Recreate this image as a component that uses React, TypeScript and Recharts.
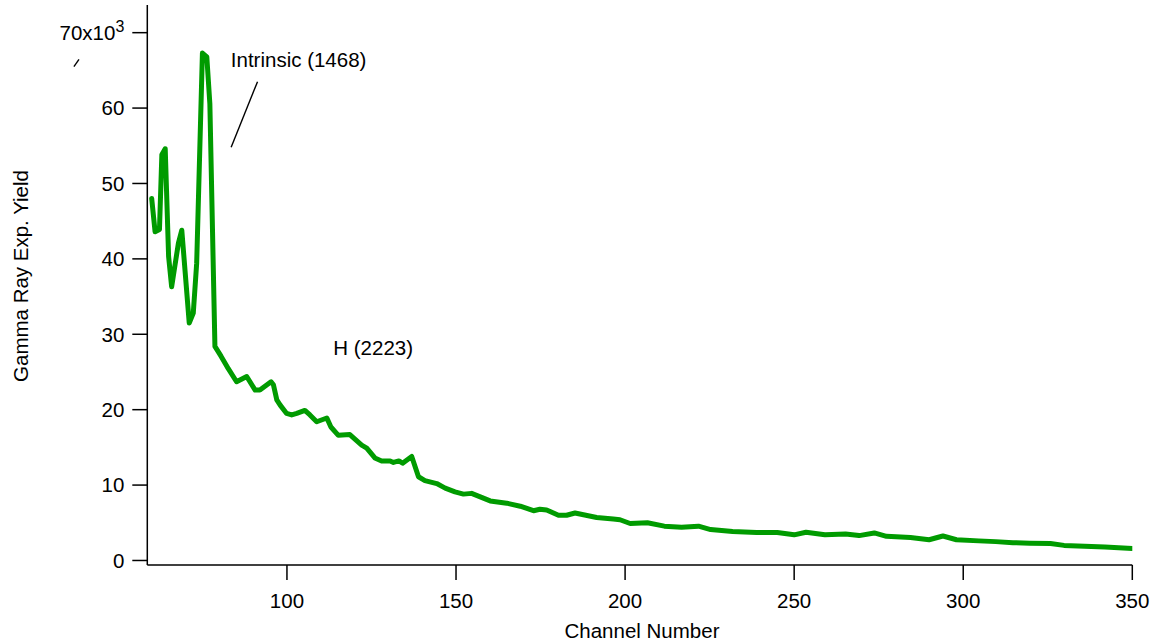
import React from 'react';
import { LineChart, Line, XAxis, YAxis, ReferenceLine, ReferenceDot } from 'recharts';

// Gamma-ray spectrum: channel number vs. experimental yield
const channels = [
  60.0, 61.0, 62.3, 63.0, 64.0, 65.0, 65.9, 67.9, 68.9, 71.1, 72.3, 73.3,
  75.0, 76.3, 77.2, 78.7, 80.5, 82.7, 85.1, 88.1, 90.6, 92.0, 95.3, 96.0,
  97.0, 98.0, 99.9, 101.4, 102.9, 105.3, 106.8, 108.8, 111.8, 113.0, 115.2, 118.6,
  122.1, 123.6, 126.0, 128.0, 130.5, 131.5, 133.1, 134.2, 136.9, 138.9, 140.8, 144.3,
  146.8, 149.7, 152.2, 154.6, 160.1, 165.0, 169.0, 172.9, 174.8, 176.8, 180.3, 182.7,
  185.2, 191.6, 196.5, 198.5, 201.5, 206.6, 211.6, 216.7, 221.7, 225.3, 231.8, 238.9,
  245.0, 250.0, 253.5, 259.1, 265.2, 269.2, 273.7, 277.3, 284.4, 289.9, 294.0, 298.0,
  304.6, 309.6, 314.7, 319.7, 325.8, 329.8, 335.9, 341.9, 350.0,
];

const yields = [
  48000, 43600, 43900, 53800, 54600, 40300, 36300, 42100, 43800, 31500, 32800, 39400,
  67300, 66800, 60600, 28400, 27100, 25400, 23700, 24400, 22600, 22600, 23700, 23300,
  21300, 20600, 19500, 19300, 19500, 19900, 19300, 18400, 18900, 17700, 16600, 16700,
  15300, 14900, 13600, 13200, 13200, 13000, 13200, 12900, 13800, 11100, 10600, 10200,
  9600, 9100, 8800, 8900, 7900, 7600, 7200, 6600, 6800, 6700, 6000, 6000,
  6300, 5700, 5500, 5400, 4900, 5000, 4550, 4400, 4550, 4100, 3850, 3700,
  3700, 3400, 3750, 3400, 3500, 3300, 3650, 3200, 3050, 2750, 3250, 2750,
  2600, 2500, 2350, 2300, 2250, 2000, 1900, 1800, 1600,
];

const xTicks = [100, 150, 200, 250, 300, 350];
const yTicks = [0, 10000, 20000, 30000, 40000, 50000, 60000, 70000];

const data = channels.map((channel, i) => ({ channel, yield: yields[i] }));

const FONT = '"Liberation Sans", Arial, Helvetica, sans-serif';
const FS = 20.5;

function YTick(props: any) {
  const { x, y, payload } = props;
  const v = payload.value / 1000;
  if (v === 70) {
    return (
      <text x={x} y={y} dy="0.355em" textAnchor="end" fill="#000" fontSize={FS} fontFamily={FONT}>
        <tspan>70x10</tspan>
        <tspan dy={-8} fontSize={16}>3</tspan>
      </text>
    );
  }
  return (
    <text x={x} y={y} dy="0.355em" textAnchor="end" fill="#000" fontSize={FS} fontFamily={FONT}>
      {v}
    </text>
  );
}

const annText = (text: string) => (p: any) => (
  <text x={p.viewBox.x} y={p.viewBox.y} fill="#000" fontSize={FS} fontFamily={FONT}>
    {text}
  </text>
);

export default function App() {
  return (
    <div style={{ position: 'absolute', left: 0, top: 0, background: '#fff' }}>
      <LineChart
        width={1156}
        height={641}
        data={data}
        margin={{ top: 5, right: 23.7, bottom: 16, left: 47.3 }}
      >
        <XAxis
          type="number"
          dataKey="channel"
          domain={[58.7, 350]}
          ticks={xTicks}
          allowDataOverflow
          height={60}
          stroke="#000"
          strokeWidth={1.5}
          tickSize={15}
          tickMargin={13}
          tick={{ fill: '#000', fontSize: FS, fontFamily: FONT }}
          label={{
            content: () => (
              <text x={642} y={638} textAnchor="middle" fill="#000" fontSize={FS} fontFamily={FONT}>
                Channel Number
              </text>
            ),
          }}
        />
        <YAxis
          type="number"
          domain={[-600, 73670]}
          ticks={yTicks}
          allowDataOverflow
          width={100}
          stroke="#000"
          strokeWidth={1.5}
          tickSize={15}
          tickMargin={8}
          tick={<YTick />}
          label={{
            content: () => (
              <text
                x={21}
                y={276}
                dy="0.35em"
                transform="rotate(-90 21 276)"
                textAnchor="middle"
                fill="#000"
                fontSize={FS}
                fontFamily={FONT}
              >
                Gamma Ray Exp. Yield
              </text>
            ),
          }}
        />
        <Line
          type="linear"
          dataKey="yield"
          stroke="#009b00"
          strokeWidth={5}
          strokeLinejoin="round"
          strokeLinecap="round"
          dot={false}
          isAnimationActive={false}
        />
        <ReferenceLine
          segment={[{ x: 83.5, y: 54800 }, { x: 91.3, y: 63500 }]}
          stroke="#000"
          strokeWidth={1.4}
        />
        <ReferenceLine
          segment={[{ x: 37.0, y: 65500 }, { x: 38.5, y: 66470 }]}
          stroke="#000"
          strokeWidth={1.4}
          ifOverflow="visible"
        />
        <ReferenceDot x={83.4} y={65400} r={0} fill="none" stroke="none" label={annText('Intrinsic (1468)')} />
        <ReferenceDot x={113.7} y={27250} r={0} fill="none" stroke="none" label={annText('H (2223)')} />
      </LineChart>
    </div>
  );
}
